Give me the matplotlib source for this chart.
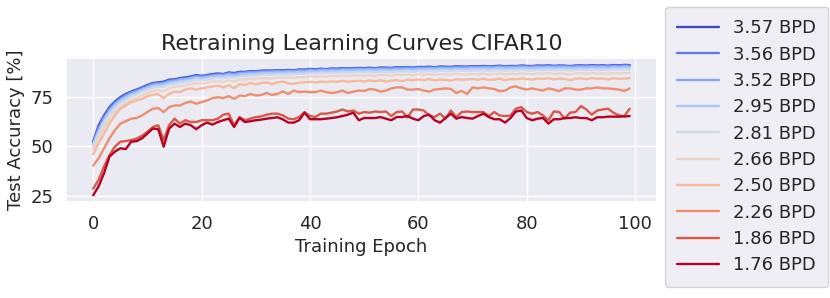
import numpy as np
import matplotlib as mpl
mpl.use('Agg')
import matplotlib.pyplot as plt
import seaborn as sns

# test accuracy per epoch
labels = ['3.57 BPD', '3.56 BPD', '3.52 BPD', '2.95 BPD', '2.81 BPD',
          '2.66 BPD', '2.50 BPD', '2.26 BPD', '1.86 BPD', '1.76 BPD']

acc_357 = [52.5, 60.5, 65.5, 69.7, 72.5, 74.7, 76.3, 77.5, 78.5, 79.6,
           80.8, 81.8, 82.1, 82.5, 83.5, 83.6, 84.3, 84.6, 85.1, 85.8,
           85.4, 85.8, 86.3, 86.6, 86.3, 87.1, 86.8, 87.4, 87.4, 87.8,
           87.7, 88.0, 88.1, 88.0, 88.3, 88.2,
           88.4, 88.2, 88.6, 88.5, 88.9, 88.7, 89.0, 88.8, 89.1, 89.0,
           89.3, 89.1, 89.2, 89.4, 89.3, 89.5, 89.2, 89.6, 89.5, 89.4,
           89.7, 89.6, 89.8, 89.5, 89.9, 89.8, 90.0, 89.7, 90.1, 90.0,
           89.9, 90.2, 90.1, 90.0,
           90.3, 90.2, 90.4, 90.1, 90.3, 90.5, 90.2, 90.4, 90.3, 90.6,
           90.4, 90.3, 90.6, 90.5, 90.7, 90.4, 90.6, 90.5, 90.3, 90.6,
           90.7, 90.5, 90.8, 90.6, 90.7, 90.5, 90.8, 90.7, 90.9, 90.8]
acc_356 = [52.0, 59.5, 64.8, 69.0, 72.0, 74.2, 75.9, 77.2, 78.1, 79.3,
           80.4, 81.5, 81.8, 82.1, 83.1, 83.3, 84.0, 84.2, 84.8, 85.4,
           85.2, 85.5, 86.0, 86.2, 86.1, 86.8, 86.5, 87.1, 87.2, 87.5,
           87.5, 87.8, 87.8, 87.9, 88.1, 88.0,
           88.2, 88.1, 88.4, 88.3, 88.7, 88.5, 88.8, 88.7, 88.9, 88.8,
           89.1, 89.0, 89.1, 89.2, 89.1, 89.3, 89.1, 89.4, 89.3, 89.3,
           89.5, 89.4, 89.6, 89.4, 89.7, 89.6, 89.8, 89.6, 89.9, 89.8,
           89.8, 90.0, 89.9, 89.9,
           90.1, 90.0, 90.2, 90.0, 90.1, 90.3, 90.1, 90.2, 90.2, 90.4,
           90.2, 90.2, 90.4, 90.3, 90.5, 90.3, 90.4, 90.4, 90.2, 90.4,
           90.5, 90.4, 90.6, 90.4, 90.5, 90.4, 90.6, 90.5, 90.7, 90.6]
acc_352 = [51.5, 58.5, 64.0, 68.2, 71.3, 73.6, 75.3, 76.7, 77.7, 78.8,
           80.0, 81.0, 81.4, 81.6, 82.6, 82.9, 83.6, 83.8, 84.4, 85.0,
           84.8, 85.1, 85.6, 85.8, 85.7, 86.4, 86.1, 86.7, 86.8, 87.1,
           87.1, 87.4, 87.5, 87.5, 87.7, 87.6,
           87.8, 87.7, 88.0, 87.9, 88.3, 88.1, 88.4, 88.3, 88.5, 88.4,
           88.7, 88.6, 88.7, 88.8, 88.7, 88.9, 88.7, 89.0, 88.9, 88.9,
           89.1, 89.0, 89.2, 89.0, 89.3, 89.2, 89.4, 89.2, 89.5, 89.4,
           89.4, 89.6, 89.5, 89.5,
           89.7, 89.6, 89.8, 89.6, 89.7, 89.9, 89.7, 89.8, 89.8, 90.0,
           89.8, 89.8, 90.0, 89.9, 90.1, 89.9, 90.0, 90.0, 89.8, 90.0,
           90.1, 90.0, 90.2, 90.0, 90.1, 90.0, 90.2, 90.1, 90.3, 90.2]
acc_295 = [51.0, 57.5, 63.0, 67.3, 70.5, 72.9, 74.6, 76.0, 77.1, 78.2,
           79.4, 80.4, 80.8, 81.0, 82.0, 82.3, 83.0, 83.2, 83.8, 84.4,
           84.2, 84.5, 85.0, 85.3, 85.1, 85.8, 85.5, 86.1, 86.2, 86.5,
           86.5, 86.8, 86.9, 86.9, 87.1, 87.0,
           87.2, 87.1, 87.4, 87.3, 87.7, 87.5, 87.8, 87.7, 87.9, 87.8,
           88.1, 88.0, 88.1, 88.2, 88.1, 88.3, 88.1, 88.4, 88.3, 88.3,
           88.5, 88.4, 88.6, 88.4, 88.7, 88.6, 88.8, 88.6, 88.9, 88.8,
           88.8, 89.0, 88.9, 88.9,
           89.1, 89.0, 89.2, 89.0, 89.1, 89.3, 89.1, 89.2, 89.2, 89.4,
           89.2, 89.2, 89.4, 89.3, 89.5, 89.3, 89.4, 89.4, 89.2, 89.4,
           89.5, 89.4, 89.6, 89.4, 89.5, 89.4, 89.6, 89.5, 89.7, 89.6]
acc_281 = [50.0, 56.0, 61.8, 66.0, 69.3, 71.8, 73.6, 75.0, 76.1, 77.3,
           78.5, 79.5, 79.9, 80.0, 81.1, 81.4, 82.1, 82.3, 82.9, 83.5,
           83.3, 83.6, 84.2, 84.4, 84.2, 84.9, 84.5, 85.2, 85.3, 85.6,
           85.5, 85.9, 86.0, 85.9, 86.2, 86.1,
           86.3, 86.1, 86.5, 86.4, 86.8, 86.6, 86.9, 86.8, 87.0, 86.9,
           87.2, 87.1, 87.2, 87.3, 87.2, 87.4, 87.1, 87.5, 87.4, 87.3,
           87.6, 87.5, 87.7, 87.4, 87.8, 87.7, 87.9, 87.6, 88.0, 87.9,
           87.8, 88.1, 88.0, 87.9,
           88.1, 88.0, 88.2, 87.9, 88.1, 88.3, 88.0, 88.2, 88.1, 88.4,
           88.2, 88.1, 88.4, 88.3, 88.5, 88.2, 88.4, 88.3, 88.1, 88.4,
           88.5, 88.3, 88.6, 88.4, 88.5, 88.3, 88.6, 88.5, 88.7, 88.5]
acc_266 = [48.5, 54.0, 59.5, 63.8, 67.2, 69.8, 71.7, 73.2, 74.3, 75.5,
           76.8, 77.8, 78.2, 77.6, 79.3, 79.8, 80.2, 80.6, 81.3, 81.8,
           81.4, 82.0, 82.6, 82.8, 82.3, 83.2, 82.6, 83.6, 83.5, 84.0,
           83.7, 84.2, 84.3, 84.0, 84.6, 84.4,
           84.7, 84.3, 84.8, 84.7, 85.2, 84.9, 85.3, 85.0, 85.4, 85.2,
           85.6, 85.3, 85.5, 85.7, 85.4, 85.8, 85.3, 85.9, 85.7, 85.5,
           86.0, 85.8, 86.1, 85.6, 86.2, 86.0, 86.3, 85.8, 86.3, 86.2,
           85.9, 86.4, 86.2, 86.0,
           86.4, 86.2, 86.6, 86.0, 86.3, 86.6, 86.1, 86.5, 86.3, 86.7,
           86.4, 86.2, 86.7, 86.5, 86.8, 86.3, 86.6, 86.5, 86.1, 86.6,
           86.8, 86.4, 86.9, 86.5, 86.7, 86.4, 86.8, 86.6, 86.9, 86.9]
acc_250 = [46.0, 51.5, 56.4, 61.4, 65.5, 68.9, 70.5, 72.2, 73.0, 73.8,
           75.2, 75.8, 76.3, 74.2, 76.3, 77.5, 77.2, 78.5, 79.1, 78.5,
           79.1, 79.6, 80.1, 80.5, 79.6, 80.8, 79.1, 81.3, 80.8, 81.8,
           81.1, 81.8, 82.1, 81.3, 82.1, 82.5,
           81.6, 81.4, 82.0, 82.2, 82.4, 82.1, 82.5, 82.3, 82.6, 82.4,
           82.9, 82.5, 82.7, 83.0, 82.6, 83.1, 82.8, 83.2, 82.5, 83.0,
           83.3, 82.7, 83.5, 83.2, 83.6, 83.3, 83.8, 83.1, 83.5, 83.4,
           83.0, 83.7, 83.5, 83.6,
           83.8, 83.4, 84.0, 83.3, 83.6, 84.0, 83.2, 83.8, 83.6, 84.1,
           83.8, 83.5, 84.1, 83.9, 84.2, 83.6, 84.0, 83.8, 83.3, 83.9,
           84.2, 83.7, 84.3, 83.9, 84.1, 83.6, 84.2, 83.9, 84.0, 84.3]
acc_226 = [40.3, 44.0, 49.0, 54.0, 58.1, 61.4, 62.6, 63.9, 64.2, 65.5,
           67.2, 68.9, 69.2, 67.2, 69.7, 70.5, 70.5, 71.8, 72.5, 71.4,
           72.2, 73.0, 74.2, 74.7, 74.2, 75.2, 73.8, 75.5, 75.2, 76.3,
           75.5, 75.8, 76.8, 75.8, 76.3, 77.6,
           76.3, 78.0, 77.2, 77.5, 77.2, 77.2, 78.0, 77.2, 76.8, 77.2,
           78.0, 76.8, 77.5, 78.0, 77.8, 78.8, 78.5, 77.5, 78.0, 79.1,
           79.6, 79.6, 78.5, 78.5, 78.8, 78.0, 77.5, 78.5, 78.8, 79.1,
           78.8, 76.8, 77.8, 76.3,
           79.6, 79.1, 79.6, 79.1, 78.8, 77.7, 78.0, 79.6, 80.1, 79.1,
           78.5, 79.1, 78.5, 78.0, 79.1, 78.5, 77.7, 79.1, 79.1, 78.5,
           78.5, 79.1, 79.1, 79.6, 79.1, 79.1, 78.8, 78.5, 77.8, 79.1]
acc_186 = [28.7, 33.2, 39.8, 45.6, 49.8, 52.3, 52.6, 53.1, 53.9, 55.3,
           57.3, 59.7, 60.6, 53.1, 60.6, 63.9, 61.4, 63.1, 62.2, 62.2,
           63.1, 63.1, 63.1, 63.9, 65.9, 66.4, 60.6, 64.7, 63.1, 63.9,
           64.7, 65.0, 65.9, 66.4, 66.4, 65.5,
           63.9, 63.6, 64.7, 67.2, 65.2, 64.7, 66.4, 66.4, 66.9, 67.5,
           68.5, 67.5, 68.0, 66.4, 67.2, 66.9, 67.5, 67.2, 67.5, 65.2,
           67.2, 67.5, 64.5, 68.5, 68.5, 68.0, 65.5, 64.7, 66.4, 63.9,
           68.0, 64.7, 67.2, 67.5,
           67.2, 67.2, 67.2, 65.2, 67.2, 65.5, 65.2, 65.5, 68.9, 69.7,
           67.2, 66.4, 67.2, 65.5, 63.1, 67.5, 67.2, 63.9, 66.9, 67.2,
           70.2, 68.5, 65.9, 68.0, 68.5, 68.9, 66.9, 65.5, 65.2, 68.9]
acc_176 = [25.4, 29.9, 36.5, 44.8, 47.3, 49.0, 48.6, 52.3, 52.6, 54.0,
           56.4, 58.9, 58.6, 49.8, 58.9, 61.4, 59.7, 61.4, 60.6, 58.6,
           60.6, 61.9, 60.9, 62.2, 63.1, 63.9, 59.7, 64.2, 62.2, 62.6,
           63.1, 63.4, 63.9, 64.2, 64.6, 63.5,
           61.9, 61.9, 63.1, 66.9, 63.6, 63.6, 63.6, 63.9, 64.2, 64.6,
           65.2, 65.9, 66.9, 63.1, 64.2, 64.2, 64.2, 64.7, 63.9, 63.1,
           64.7, 64.7, 65.2, 63.9, 63.1, 65.2, 65.9, 63.1, 61.9, 64.2,
           66.4, 63.9, 64.7, 64.2,
           63.9, 65.2, 66.4, 64.7, 63.6, 63.6, 61.9, 64.2, 67.5, 68.0,
           64.2, 63.1, 63.9, 64.2, 61.4, 63.6, 63.6, 64.2, 64.2, 64.6,
           64.2, 64.2, 63.1, 64.6, 64.6, 64.9, 64.9, 64.9, 65.0, 65.2]

curves = [acc_357, acc_356, acc_352, acc_295, acc_281,
          acc_266, acc_250, acc_226, acc_186, acc_176]
epochs = np.arange(100)

sns.set_theme(style='darkgrid')
colors = plt.cm.coolwarm(np.linspace(0, 1, len(curves)))

fig = plt.figure(figsize=(8.30, 2.98), dpi=100)
ax = fig.add_axes([0.080, 0.323, 0.711, 0.481])

for acc, lab, col in zip(curves, labels, colors):
    ax.plot(epochs, acc, color=col, lw=1.7, label=lab)

ax.set_title('Retraining Learning Curves CIFAR10', fontsize=16)
ax.set_xlabel('Training Epoch', fontsize=13)
ax.set_ylabel('Test Accuracy [%]', fontsize=13)
ax.set_yticks([25, 50, 75])
ax.tick_params(labelsize=13)

fig.legend(loc='upper left', bbox_to_anchor=(0.801, 0.977), fontsize=13,
           borderaxespad=0, borderpad=0.7, handlelength=2.3,
           handletextpad=0.75, labelspacing=0.46)

fig.savefig('out.png', dpi=100)
